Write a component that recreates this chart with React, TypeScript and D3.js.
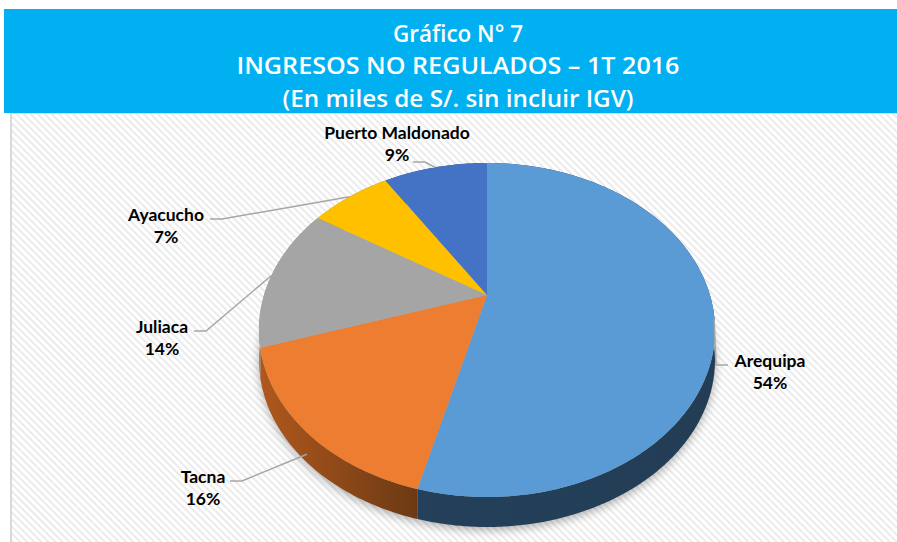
import React from "react";
import * as d3 from "d3";

// chart data
const categories = ["Arequipa", "Tacna", "Juliaca", "Ayacucho", "Puerto Maldonado"];
const shares = [54, 16, 14, 7, 9];
const pctLabels = ["54%", "16%", "14%", "7%", "9%"];
const topColors = ["#5B9BD5", "#ED7D31", "#A5A5A5", "#FFC000", "#4472C4"];
const sideColorsFrom = ["#24405A", "#B0581C", "#8a8a8a", "#c79500", "#30538f"];
const sideColorsTo = ["#233D55", "#6C3914", "#626262", "#8f6b00", "#22406e"];

const titleLines = ["Gráfico N° 7", "INGRESOS NO REGULADOS – 1T 2016", "(En miles de S/.  sin incluir IGV)"];

// label placement (name baseline, leader start)
const labelLayout = [
  { x: 770, y: 367, lx: 728, ly: 365, dir: -1 },
  { x: 203, y: 483, lx: 230, ly: 481, dir: 1 },
  { x: 162, y: 333, lx: 194, ly: 331, dir: 1 },
  { x: 166, y: 221, lx: 210, ly: 219, dir: 1 },
  { x: 397, y: 139, lx: 413, ly: 162, dir: 1 },
];

const W = 897;
const H = 542;

// 3d pie geometry (perspective projection of a disc)
const cx = 487;
const apexY = 295;
const topY = 163;
const bottomY = 497;
const halfWidth = 228;
const depth = 30;

const C = (bottomY + topY - 2 * apexY) / (topY - bottomY);
const A = bottomY + bottomY * C - apexY;
const K = halfWidth * Math.sqrt(1 - C * C);

const project = (theta: number, dz = 0): [number, number] => {
  const X = Math.sin(theta);
  const T = -Math.cos(theta);
  const den = 1 + C * T;
  return [cx + (K * X) / den, (A * T + apexY) / den + dz];
};

const arcPoints = (a0: number, a1: number, dz = 0) => {
  const n = Math.max(2, Math.ceil(((a1 - a0) * 180) / Math.PI));
  return d3.range(n + 1).map((i) => project(a0 + ((a1 - a0) * i) / n, dz));
};

const line = d3.line<[number, number]>();

const App = () => {
  const pie = d3
    .pie<number>()
    .sort(null)
    .startAngle(0)
    .endAngle(2 * Math.PI);
  const arcs = pie(shares);

  const font = "Lato, 'Open Sans', sans-serif";

  return (
    <div style={{ position: "absolute", left: 0, top: 0 }}>
      <svg width={W} height={H} style={{ display: "block" }}>
        <defs>
          <pattern
            id="hatch"
            width={5}
            height={5}
            patternUnits="userSpaceOnUse"
            patternTransform="rotate(-45)"
          >
            <rect width={5} height={5} fill="#ffffff" />
            <rect width={2} height={5} fill="#ebebeb" />
          </pattern>
          <filter id="blur" x="-20%" y="-20%" width="140%" height="140%">
            <feGaussianBlur stdDeviation={5} />
          </filter>
          {arcs.map((a, i) => (
            <linearGradient key={i} id={`side${i}`} x1="0" y1="0" x2="1" y2="0">
              <stop offset="0%" stopColor={sideColorsFrom[i]} />
              <stop offset="100%" stopColor={sideColorsTo[i]} />
            </linearGradient>
          ))}
        </defs>

        <rect x={0} y={0} width={W} height={H} fill="#ffffff" />

        {/* plot area */}
        <rect x={11} y={113} width={W} height={H} fill="url(#hatch)" stroke="#d9d9d9" strokeWidth={2} />

        {/* title banner */}
        <rect x={4} y={9} width={W} height={104} fill="#00B0F0" />
        {titleLines.map((t, i) => (
          <text
            key={i}
            x={458}
            y={[42, 74, 107][i]}
            textAnchor="middle"
            fill="#ffffff"
            fontFamily="'Open Sans', sans-serif"
            fontWeight={600}
            fontSize={24}
            textLength={[130, 443, 351][i]}
            lengthAdjust="spacingAndGlyphs"
          >
            {t}
          </text>
        ))}

        {/* shadow under the pie */}
        <path
          d={line(arcPoints(0, 2 * Math.PI, depth + 3)) + "Z"}
          fill="#000"
          opacity={0.3}
          filter="url(#blur)"
        />

        {/* sides */}
        {arcs.map((a, i) => {
          const pts = arcPoints(a.startAngle, a.endAngle, 0).concat(
            arcPoints(a.startAngle, a.endAngle, depth).reverse()
          );
          return <path key={`s${i}`} d={line(pts) + "Z"} fill={`url(#side${i})`} />;
        })}

        {/* top faces */}
        {arcs.map((a, i) => {
          const pts: [number, number][] = [[cx, apexY], ...arcPoints(a.startAngle, a.endAngle, 0)];
          return <path key={`t${i}`} d={line(pts) + "Z"} fill={topColors[i]} />;
        })}

        {/* leader lines and labels */}
        {arcs.map((a, i) => {
          const mid = (a.startAngle + a.endAngle) / 2;
          const [ax, ay0] = project(mid, 0);
          const ay = ay0 + depth * Math.max(0, -Math.cos(mid));
          const L = labelLayout[i];
          const pts: [number, number][] = [
            [L.lx, L.ly],
            [L.lx + 12 * L.dir, L.ly],
            [ax, ay],
          ];
          return (
            <g key={`l${i}`}>
              <path d={line(pts) ?? ""} fill="none" stroke="#a6a6a6" strokeWidth={1.5} />
              <text
                x={L.x}
                y={L.y}
                textAnchor="middle"
                fontFamily={font}
                fontWeight={700}
                fontSize={17.5}
                fill="#000"
              >
                {categories[i]}
              </text>
              <text
                x={L.x}
                y={L.y + 22}
                textAnchor="middle"
                fontFamily={font}
                fontWeight={700}
                fontSize={17.5}
                fill="#000"
              >
                {pctLabels[i]}
              </text>
            </g>
          );
        })}
      </svg>
    </div>
  );
};

export default App;
